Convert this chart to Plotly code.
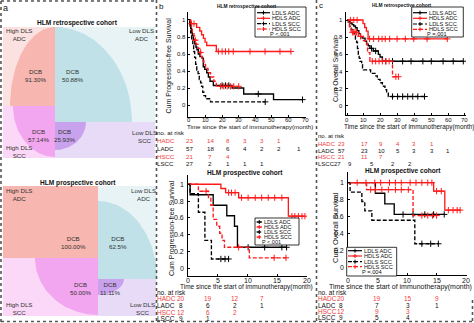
import numpy as np
import plotly.graph_objects as go

W, H = 474, 323
FONT = "Liberation Sans, Arial, sans-serif"
RED = "#ff1a1a"
RED_TXT = "#f03c3c"
BLK = "#000000"

# ------------------------------------------------------------------ data
groups = ["LDLS ADC", "HDLS ADC", "LDLS SCC", "HDLS SCC"]

# panel a: DCB rates (HADC, LADC, HSCC, LSCC)
dcb_retro = ["91.30%", "50.88%", "57.14%", "25.93%"]
dcb_pros = ["100.00%", "62.5%", "50.00%", "11.11%"]

# --- PFS retrospective (b top)
pfs_r_ladc_t = [0, 0.5, 1, 1.5, 2, 2.6, 3.4, 4.2, 4.8, 5.6, 6.6, 8, 8.6, 9.5, 10.7, 11.7, 12.7, 14.7, 26, 33, 51]
pfs_r_ladc_s = [1, 0.95, 0.9, 0.86, 0.82, 0.77, 0.72, 0.68, 0.65, 0.6, 0.57, 0.55, 0.45, 0.42, 0.38, 0.33, 0.28, 0.23, 0.2, 0.13, 0.063]
pfs_r_ladc_end = 68.5
pfs_r_ladc_c = [20, 22, 24, 41.8, 68.5]

pfs_r_hadc_t = [0, 0.6, 4.6, 6.5, 7.6, 8.7, 9.7, 10.7, 16.5]
pfs_r_hadc_s = [1, 0.957, 0.913, 0.870, 0.826, 0.783, 0.739, 0.70, 0.63]
pfs_r_hadc_end = 61.5
pfs_r_hadc_c = [1.5, 3, 17.7, 20, 22, 24, 26.7, 36.8, 45.9, 54.9, 61.5]

pfs_r_lscc_t = [0, 0.5, 1, 1.6, 2.3, 2.8, 3.4, 4, 4.7, 5.5, 6.2, 7, 7.6, 8.3, 9, 10, 13]
pfs_r_lscc_s = [1, 0.93, 0.85, 0.78, 0.70, 0.63, 0.56, 0.48, 0.41, 0.37, 0.30, 0.26, 0.22, 0.15, 0.11, 0.074, 0.037]
pfs_r_lscc_end = 46
pfs_r_lscc_c = [46]

pfs_r_hscc_t = [0, 1, 1.5, 2, 3, 3.5, 4.5, 5.5, 6.5, 7.5, 8, 9, 10, 11.5, 13, 15, 16.5]
pfs_r_hscc_s = [1, 0.952, 0.905, 0.857, 0.81, 0.762, 0.714, 0.667, 0.619, 0.571, 0.524, 0.476, 0.429, 0.38, 0.33, 0.28, 0.22]
pfs_r_hscc_end = 30
pfs_r_hscc_c = [3.8, 7, 19, 21, 23, 25, 27, 30]

# --- PFS prospective (b bottom)
pfs_p_ladc_t = [0, 0.3, 4.2, 6.5, 7.8, 8.3]
pfs_p_ladc_s = [1, 0.875, 0.75, 0.625, 0.5, 0.25]
pfs_p_ladc_end = 16.6
pfs_p_ladc_c = [10.1, 12.9, 15.8, 16.6]

pfs_p_hadc_t = [0, 5.5, 6.3, 8.5, 16.9]
pfs_p_hadc_s = [1, 0.95, 0.9, 0.84, 0.62]
pfs_p_hadc_end = 19.7
pfs_p_hadc_c = [6.8, 7.3, 7.9, 9, 10.1, 11.3, 12.4, 13.5, 14.6, 15.8, 17.5, 18, 18.6, 19.2, 19.7]

pfs_p_lscc_t = [0, 0.3, 1.7, 2.8, 3.9]
pfs_p_lscc_s = [1, 0.889, 0.667, 0.333, 0.111]
pfs_p_lscc_end = 6.8
pfs_p_lscc_c = [5.5, 6.2, 6.8]

pfs_p_hscc_t = [0, 1.7, 3.4, 3.8, 4.2, 4.8, 5.3, 5.7, 6.1, 10.3]
pfs_p_hscc_s = [1, 0.917, 0.833, 0.75, 0.583, 0.5, 0.417, 0.333, 0.25, 0.125]
pfs_p_hscc_end = 16.5
pfs_p_hscc_c = [3.0, 8.5, 14.5, 16.5]

# --- OS retrospective (c top)
os_r_ladc_t = [0, 1, 2, 3, 4, 5, 6, 7, 8, 9, 10.7, 11.6, 12.6, 13.6, 15.6, 18.6, 19.6, 21]
os_r_ladc_s = [1, 0.98, 0.965, 0.947, 0.93, 0.91, 0.877, 0.842, 0.807, 0.789, 0.754, 0.72, 0.70, 0.67, 0.64, 0.60, 0.57, 0.52]
os_r_ladc_end = 69
os_r_ladc_c = [14.5, 17, 23, 27, 33, 38, 45, 50, 57, 63, 69]

os_r_hadc_t = [0, 9.5, 10.5, 11.5, 12.5]
os_r_hadc_s = [1, 0.957, 0.913, 0.87, 0.78]
os_r_hadc_end = 59.5
os_r_hadc_c = [2, 4, 6, 13.4, 15.8, 18.8, 20.8, 22.7, 25.3, 29.7, 34.6, 39.6, 47.5, 59.5]

os_r_lscc_t = [0, 0.8, 1.5, 2.5, 3.5, 4.5, 5, 5.7, 6.2, 6.7, 7.2, 7.7, 8.7, 9.2, 9.7, 14, 16.6, 18, 19.6, 21, 22.5, 23.5, 24.5]
os_r_lscc_s = [1, 0.963, 0.926, 0.889, 0.852, 0.815, 0.778, 0.741, 0.667, 0.593, 0.556, 0.519, 0.481, 0.444, 0.42, 0.38, 0.35, 0.31, 0.27, 0.23, 0.19, 0.15, 0.11]
os_r_lscc_end = 46
os_r_lscc_c = [27, 30, 33, 36, 39, 42, 46]

os_r_hscc_t = [0, 0.8, 1.5, 2.5, 6.7, 9.7, 11.7, 12.2, 13.6, 27]
os_r_hscc_s = [1, 0.952, 0.905, 0.857, 0.81, 0.76, 0.71, 0.62, 0.52, 0.34]
os_r_hscc_end = 30.5
os_r_hscc_c = [3.2, 4, 4.8, 5.6, 8, 15, 17, 19, 21, 23, 25, 29, 30.5]

# --- OS prospective (c bottom)
os_p_ladc_t = [0, 4.6, 6.2, 7.8]
os_p_ladc_s = [1, 0.875, 0.75, 0.625]
os_p_ladc_end = 16.3
os_p_ladc_c = [9.3, 11, 13, 14.5, 16.3]

os_p_hadc_t = [0, 14.5, 16.4]
os_p_hadc_s = [1, 0.9, 0.675]
os_p_hadc_end = 19
os_p_hadc_c = [1.5, 3, 4.5, 5.5, 7, 8, 9, 10.5, 11.5, 12.5, 13.5, 14.2, 15, 15.8, 17, 17.8, 18.5, 19]

os_p_lscc_t = [0, 0.3, 2.3, 2.8, 4, 11.3]
os_p_lscc_s = [1, 0.889, 0.778, 0.667, 0.556, 0.278]
os_p_lscc_end = 15.3
os_p_lscc_c = [12.5, 14, 15.3]

os_p_hscc_t = [0, 3.1, 11]
os_p_hscc_s = [1, 0.917, 0.611]
os_p_hscc_end = 15
os_p_hscc_c = [3.8, 4.6, 5.7, 6.8, 8, 9, 10.2, 12.5, 13.5, 14.3, 15]

p_values = ["P <.001", "P <.001", "P =.001", "P =.004"]

# numbers at risk
risk_rows = ["HADC", "LADC", "HSCC", "LSCC"]
risk_pfs_retro = [[23, 14, 8, 3, 3, 1], [57, 18, 6, 4, 2, 2, 1], [21, 7, 4], [27, 2, 1, 1, 1]]
risk_os_retro = [[23, 17, 9, 4, 3, 1], [57, 23, 10, 5, 3, 3, 1], [21, 11, 7], [27, 9, 5, 2, 2]]
risk_pfs_pros = [[20, 19, 12, 7], [8, 6, 2, 1], [12, 6, 2], [9, 1]]
risk_os_pros = [[20, 19, 15, 9], [8, 7, 3, 1], [12, 9, 3], [9, 5, 4]]

y_ticks = [0, 0.2, 0.4, 0.6, 0.8, 1]
y_tick_text = ["0", "0.2", "0.4", "0.6", "0.8", "1"]

# ------------------------------------------------------------------ helpers
fig = go.Figure()
annotations = []
shapes = []


def ann(x, y, text, size=6, color="#222", xanchor="center", bold=False, angle=0,
        yanchor="middle", xref="x5", yref="y5"):
    if bold:
        text = "<b>" + text + "</b>"
    annotations.append(dict(x=x, y=y, xref=xref, yref=yref, text=text, showarrow=False,
                            xanchor=xanchor, yanchor=yanchor, textangle=angle,
                            font=dict(size=size, family=FONT, color=color), borderpad=0))


def px_shape(**kw):
    d = dict(xref="x5", yref="y5", layer="above")
    d.update(kw)
    shapes.append(d)


# ------------------------------------------------------------------ panel a (pixel axis x5/y5)
COL = dict(
    salmon="#f7b6af", pink_bg="#fbe2e0",
    blue="#bfe1e7", blue_bg="#e8f3f6",
    mag="#f3a6f0", mag_bg="#fbd8f7",
    pur="#c9a2ee", pur_bg="#e8dbf7",
)


def poly(xs, ys, color):
    fig.add_trace(go.Scatter(x=xs, y=ys, xaxis="x5", yaxis="y5", mode="lines", fill="toself",
                             fillcolor=color, line=dict(width=0, color=color),
                             hoverinfo="skip", showlegend=False))


def rect(x0, y0, x1, y1, color):
    poly([x0, x1, x1, x0, x0], [y0, y0, y1, y1, y0], color)


def quarter(cx, cy, rx, ry, sx, sy, color):
    th = np.linspace(0, np.pi / 2, 40)
    xs = np.concatenate([[cx], cx + sx * rx * np.cos(th), [cx]])
    ys = np.concatenate([[cy], cy + sy * ry * np.sin(th), [cy]])
    poly(xs, ys, color)


def mosaic(geo, labels, title, ty):
    L, M, R, T, B, yl, yr = geo["L"], geo["M"], geo["R"], geo["T"], geo["B"], geo["yl"], geo["yr"]
    rect(L, T, M, yl, COL["pink_bg"])
    rect(M, T, R, yr, COL["blue_bg"])
    rect(L, yl, M, B, COL["mag_bg"])
    rect(M, yr, R, B, COL["pur_bg"])
    e = geo["ell"]
    if e[0] is None:
        rect(L, T, M, yl, COL["salmon"])
    else:
        quarter(M, yl, e[0][0], e[0][1], -1, -1, COL["salmon"])
    quarter(M, yr, e[1][0], e[1][1], 1, -1, COL["blue"])
    quarter(M, yl, e[2][0], e[2][1], -1, 1, COL["mag"])
    quarter(M, yr, e[3][0], e[3][1], 1, 1, COL["pur"])
    ann((L + R) / 2 - 2, ty, title, size=6.6, bold=True, color="#111")
    for (x, y, anchor, txt) in geo["names"]:
        ann(x, y, txt, size=6.2, xanchor=anchor, color="#333")
    for (x, y), lab in zip(geo["dcb_pos"], labels):
        ann(x, y, "DCB<br>" + lab, size=6.2, color="#333")


geo_retro = dict(L=3, M=55, R=155, T=27, B=158, yl=106, yr=122,
                 ell=[(45, 79), (77, 95), (42, 51), (31, 28)],
                 names=[(5, 34.5, "left", "High DLS<br>ADC"), (128, 34.5, "left", "Low DLS<br>ADC"),
                        (5, 151, "left", "High DLS<br>SCC"), (131, 136, "left", "Low DLS<br>SCC")],
                 dcb_pos=[(35, 75.5), (72, 75.5), (38, 135.5), (64, 135.5)])
geo_pros = dict(L=3, M=98, R=156, T=186, B=316, yl=258, yr=279,
                ell=[None, (59, 78), (63, 57), (26, 16)],
                names=[(5, 194, "left", "High DLS<br>ADC"), (130, 194, "left", "Low DLS<br>ADC"),
                       (5, 308, "left", "High DLS<br>SCC"), (129, 308, "left", "Low DLS<br>SCC")],
                dcb_pos=[(73, 242.5), (118, 242.5), (80, 288), (110, 288)])
mosaic(geo_retro, dcb_retro, "HLM retrospective cohort", 23)
mosaic(geo_pros, dcb_pros, "HLM prospective cohort", 182.5)
ann(5, 8, "a", size=9, xanchor="center", color="#111")
ann(161, 6, "b", size=8, xanchor="center", color="#111")
ann(321, 5, "c", size=8, xanchor="center", color="#111")

# ------------------------------------------------------------------ KM panels
STYLE = {"LDLS ADC": (BLK, "solid"), "HDLS ADC": (RED, "solid"),
         "LDLS SCC": (BLK, "4px,2px"), "HDLS SCC": (RED, "4px,2px")}

panels = [
    dict(ax="", xd=(188, 306), yd=(12, 117), xr=(-0.6, 70.6), yr=(-0.141, 1.094), dt=10, tf=6,
         xly=119.8, ylx=186.5,
         curves=[(pfs_r_ladc_t, pfs_r_ladc_s, pfs_r_ladc_end, pfs_r_ladc_c),
                 (pfs_r_hadc_t, pfs_r_hadc_s, pfs_r_hadc_end, pfs_r_hadc_c),
                 (pfs_r_lscc_t, pfs_r_lscc_s, pfs_r_lscc_end, pfs_r_lscc_c),
                 (pfs_r_hscc_t, pfs_r_hscc_s, pfs_r_hscc_end, pfs_r_hscc_c)]),
    dict(ax="2", xd=(187.5, 307), yd=(175, 275.7), xr=(-0.14, 20.05), yr=(-0.088, 1.11), dt=5, tf=7,
         xly=280.5, ylx=185,
         curves=[(pfs_p_ladc_t, pfs_p_ladc_s, pfs_p_ladc_end, pfs_p_ladc_c),
                 (pfs_p_hadc_t, pfs_p_hadc_s, pfs_p_hadc_end, pfs_p_hadc_c),
                 (pfs_p_lscc_t, pfs_p_lscc_s, pfs_p_lscc_end, pfs_p_lscc_c),
                 (pfs_p_hscc_t, pfs_p_hscc_s, pfs_p_hscc_end, pfs_p_hscc_c)]),
    dict(ax="3", xd=(346, 466), yd=(12, 115), xr=(-0.6, 70.6), yr=(-0.105, 1.093), dt=10, tf=6,
         xly=119.5, ylx=344,
         curves=[(os_r_ladc_t, os_r_ladc_s, os_r_ladc_end, os_r_ladc_c),
                 (os_r_hadc_t, os_r_hadc_s, os_r_hadc_end, os_r_hadc_c),
                 (os_r_lscc_t, os_r_lscc_s, os_r_lscc_end, os_r_lscc_c),
                 (os_r_hscc_t, os_r_hscc_s, os_r_hscc_end, os_r_hscc_c)]),
    dict(ax="4", xd=(347.5, 467), yd=(172, 275), xr=(-0.14, 20.17), yr=(-0.091, 1.126), dt=5, tf=7,
         xly=280.5, ylx=345,
         curves=[(os_p_ladc_t, os_p_ladc_s, os_p_ladc_end, os_p_ladc_c),
                 (os_p_hadc_t, os_p_hadc_s, os_p_hadc_end, os_p_hadc_c),
                 (os_p_lscc_t, os_p_lscc_s, os_p_lscc_end, os_p_lscc_c),
                 (os_p_hscc_t, os_p_hscc_s, os_p_hscc_end, os_p_hscc_c)]),
]

layout_axes = {}
for p in panels:
    xa, ya = "x" + p["ax"], "y" + p["ax"]
    for g, (t, s, end, cens) in zip(groups, p["curves"]):
        color, dash = STYLE[g]
        fig.add_trace(go.Scatter(x=list(t) + [end], y=list(s) + [s[-1]], xaxis=xa, yaxis=ya,
                                 mode="lines", line=dict(color=color, width=1.35, dash=dash, shape="hv"),
                                 hoverinfo="skip", showlegend=False))
        tt = np.array(t)
        cy = [s[int(np.searchsorted(tt, c, side="right")) - 1] for c in cens]
        fig.add_trace(go.Scatter(x=cens, y=cy, xaxis=xa, yaxis=ya, mode="markers",
                                 marker=dict(symbol="cross-thin", size=4.5, line=dict(color=color, width=1)),
                                 hoverinfo="skip", showlegend=False))
    common = dict(showline=True, linecolor="black", linewidth=1, ticks="inside", ticklen=2,
                  tickcolor="black", showgrid=False, zeroline=False, fixedrange=True,
                  showticklabels=False)
    xticks = list(range(0, int(p["xr"][1]) + 1, p["dt"]))
    layout_axes["xaxis" + p["ax"]] = dict(domain=[p["xd"][0] / W, p["xd"][1] / W], range=list(p["xr"]),
                                         anchor=ya, tickvals=xticks, **common)
    layout_axes["yaxis" + p["ax"]] = dict(domain=[1 - p["yd"][1] / H, 1 - p["yd"][0] / H], range=list(p["yr"]),
                                         anchor=xa, tickvals=y_ticks, **common)
    for v in xticks:
        ann(v, p["xly"], str(v), size=p["tf"], color="#111", xref=xa, yref="y5")
    for v, txt in zip(y_ticks, y_tick_text):
        ann(p["ylx"], v, txt, size=p["tf"], color="#111", xanchor="right", xref="x5", yref=ya)

# titles / axis titles
XT = "Time since the start of immunotherapy(month)"
ann(246.7, 6, "HLM retrospective cohort", size=4.9, bold=True, color="#111")
ann(401.7, 5.5, "HLM retrospective cohort", size=4.9, bold=True, color="#111")
ann(245, 172.7, "HLM prospective cohort", size=6.6, bold=True, color="#111")
ann(403, 170.7, "HLM prospective cohort", size=6.6, bold=True, color="#111")
ann(250, 126, XT, size=6.2, color="#111")
ann(408.5, 126.5, XT, size=6.4, color="#111")
ann(246, 287, XT, size=6.5, color="#111")
ann(400, 287, XT, size=7, color="#111")
ann(168.5, 66, "Cum Progression-free Survival", size=7, angle=-90, color="#111")
ann(172, 228, "Cum Progression-free Survival", size=7, angle=-90, color="#111")
ann(335, 70, "Cum Overall Survival", size=6.8, angle=-90, color="#111")
ann(335, 228, "Cum Overall Survival", size=7.5, angle=-90, color="#111")

# legends (drawn manually: box, sample lines, markers, texts)
legends = [
    dict(box=(255, 7, 306, 37), rows=[12.7, 18.3, 23.6, 29, 33.8], sx=(257, 270), tx=271, fs=5.7, p=p_values[0]),
    dict(box=(255, 218, 299, 245), rows=[222, 227, 232, 237, 241.5], sx=(256.5, 262), tx=263, fs=5.5, p=p_values[1]),
    dict(box=(411.7, 7, 463.3, 37), rows=[12.7, 18.3, 24, 29.3, 34], sx=(413, 427), tx=428, fs=5.7, p=p_values[2]),
    dict(box=(346.7, 247.3, 396.7, 276), rows=[250.7, 256, 261.7, 266.7, 272.3], sx=(348, 362), tx=363, fs=5.7, p=p_values[3]),
]
for lg in legends:
    x0, y0, x1, y1 = lg["box"]
    px_shape(type="rect", x0=x0, y0=y0, x1=x1, y1=y1, fillcolor="white", line=dict(color="black", width=0.8))
    for g, ry in zip(groups, lg["rows"][:4]):
        color, dash = STYLE[g]
        a, b = lg["sx"]
        px_shape(type="line", x0=a, y0=ry, x1=b, y1=ry, line=dict(color=color, width=1.2, dash=dash))
        m = (a + b) / 2
        px_shape(type="path", path=f"M{m-2},{ry} L{m+2},{ry} M{m},{ry-2} L{m},{ry+2}",
                 line=dict(color=color, width=1))
        ann(lg["tx"], ry, g, size=lg["fs"], xanchor="left", color="#111")
    ann(lg["tx"] - 2, lg["rows"][4], lg["p"], size=lg["fs"], xanchor="left", color="#111")

# numbers at risk tables
tables = [
    dict(data=risk_pfs_retro, lx=155.5, rows=[132.5, 140.7, 148.7, 156, 163.3], fs=6.2,
         cols=[[189.5, 210, 227.5, 245, 262.3, 278.5, 299]] * 4),
    dict(data=risk_pfs_pros, lx=156, rows=[292, 298.5, 305.5, 312, 318.3], fs=6.5,
         cols=[[181, 208, 235, 262]] * 4),
    dict(data=risk_os_retro, lx=316.5, rows=[135.5, 143.5, 150.5, 157, 163.5], fs=6.0,
         cols=[[341.5, 364, 381.3, 398, 414, 431.5, 448]] * 3 + [[337.5, 350, 372, 393, 410]]),
    dict(data=risk_os_pros, lx=317, rows=[292.3, 298.3, 305.5, 311.7, 317.7], fs=6.5,
         cols=[[340.5, 376.7, 408.3, 437]] * 4),
]
for tb in tables:
    ann(tb["lx"], tb["rows"][0], "no. at risk", size=tb["fs"], xanchor="left", color="#111")
    for i, (name, vals) in enumerate(zip(risk_rows, tb["data"])):
        color = RED_TXT if name.startswith("H") else "#111"
        ry = tb["rows"][i + 1]
        ann(tb["lx"], ry, name, size=tb["fs"], xanchor="left", color=color)
        for cx, v in zip(tb["cols"][i], vals):
            ann(cx, ry, str(v), size=tb["fs"], color=color)

# dotted panel separators
DOT = dict(color="#555", width=1.6, dash="dot")
px_shape(type="line", x0=1, y0=1, x1=156.5, y1=1, line=DOT)
px_shape(type="line", x0=1, y0=1, x1=1, y1=322, line=DOT)
px_shape(type="line", x0=156.5, y0=0, x1=156.5, y1=323, line=DOT)
px_shape(type="line", x0=316.5, y0=0, x1=316.5, y1=323, line=DOT)
px_shape(type="line", x0=1, y0=321.5, x1=472.5, y1=321.5, line=DOT)
px_shape(type="line", x0=472.5, y0=300, x1=472.5, y1=322, line=DOT)

layout_axes["xaxis5"] = dict(domain=[0, 1], range=[0, W], visible=False, fixedrange=True, anchor="y5")
layout_axes["yaxis5"] = dict(domain=[0, 1], range=[H, 0], visible=False, fixedrange=True, anchor="x5")

fig.update_layout(width=W, height=H, margin=dict(l=0, r=0, t=0, b=0), autosize=False,
                  paper_bgcolor="white", plot_bgcolor="rgba(0,0,0,0)", showlegend=False,
                  annotations=annotations, shapes=shapes, **layout_axes)
fig.write_html("out.html", config={"displayModeBar": False})
